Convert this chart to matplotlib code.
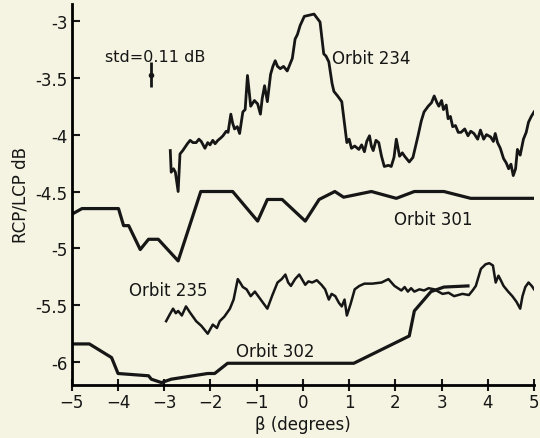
import numpy as np
import matplotlib
matplotlib.use("Agg")
import matplotlib.pyplot as plt

# values
o234_x = [-2.87, -2.85, -2.80, -2.76, -2.70, -2.66, -2.60, -2.55, -2.50, -2.44, -2.38, -2.31,
          -2.25, -2.20, -2.12, -2.06, -2.01, -1.95, -1.90, -1.84, -1.78, -1.73, -1.66, -1.62,
          -1.56, -1.52, -1.48, -1.42, -1.37, -1.30, -1.25, -1.20, -1.13, -1.05, -0.98, -0.92,
          -0.88, -0.83, -0.77, -0.70, -0.65, -0.60, -0.55, -0.49, -0.42, -0.34, -0.28, -0.23,
          -0.17, -0.12, -0.06, 0.03, 0.14, 0.24, 0.37, 0.45, 0.50, 0.56, 0.63, 0.67, 0.75,
          0.84, 0.95, 1.00, 1.05, 1.12, 1.21, 1.27, 1.33, 1.38, 1.44, 1.48, 1.52, 1.58, 1.64,
          1.70, 1.76, 1.85, 1.91, 1.97, 2.02, 2.09, 2.15, 2.20, 2.30, 2.38, 2.49, 2.56, 2.62,
          2.71, 2.78, 2.84, 2.90, 2.94, 3.00, 3.04, 3.10, 3.14, 3.19, 3.24, 3.30, 3.36, 3.42,
          3.50, 3.57, 3.63, 3.70, 3.78, 3.84, 3.91, 3.97, 4.06, 4.12, 4.16, 4.21, 4.27, 4.34,
          4.40, 4.45, 4.50, 4.55, 4.60, 4.64, 4.70, 4.77, 4.83, 4.88, 4.94, 5.0]
o234_y = [-4.14, -4.33, -4.30, -4.33, -4.50, -4.17, -4.14, -4.11, -4.08, -4.05, -4.07, -4.07,
          -4.04, -4.06, -4.12, -4.07, -4.09, -4.05, -4.08, -4.05, -4.03, -4.01, -3.97, -3.98,
          -3.82, -3.90, -3.95, -3.93, -3.99, -3.80, -3.78, -3.48, -3.75, -3.70, -3.73, -3.82,
          -3.68, -3.57, -3.71, -3.47, -3.40, -3.35, -3.40, -3.42, -3.40, -3.44, -3.38, -3.33,
          -3.16, -3.12, -3.04, -2.96, -2.95, -2.94, -3.01, -3.29, -3.31, -3.36, -3.55, -3.62,
          -3.66, -3.71, -4.07, -4.04, -4.12, -4.10, -4.13, -4.09, -4.15, -4.06, -4.01, -4.10,
          -4.14, -4.05, -4.07, -4.19, -4.28, -4.27, -4.28, -4.20, -4.04, -4.19, -4.16, -4.19,
          -4.24, -4.20, -4.01, -3.88, -3.80, -3.75, -3.72, -3.66, -3.72, -3.75, -3.70, -3.78,
          -3.74, -3.86, -3.84, -3.93, -3.92, -3.98, -3.98, -3.95, -4.01, -3.97, -3.99, -4.04,
          -3.96, -4.04, -4.00, -4.02, -4.06, -3.99, -4.07, -4.12, -4.21, -4.25, -4.30, -4.26,
          -4.36, -4.30, -4.13, -4.18, -4.04, -3.98, -3.89, -3.84, -3.80]

o301_x = [-5.0, -4.78, -3.99, -3.88, -3.77, -3.52, -3.34, -3.13, -2.70, -2.21, -1.52,
          -0.98, -0.77, -0.45, 0.05, 0.35, 0.69, 0.88, 1.48, 2.02, 2.41, 3.05, 3.63, 5.0]
o301_y = [-4.70, -4.65, -4.65, -4.80, -4.80, -5.01, -4.92, -4.92, -5.11, -4.50, -4.50,
          -4.76, -4.57, -4.57, -4.76, -4.57, -4.50, -4.55, -4.50, -4.56, -4.50, -4.50, -4.56, -4.56]

o235_x = [-2.96, -2.88, -2.81, -2.75, -2.70, -2.62, -2.53, -2.45, -2.38, -2.31, -2.20, -2.12,
          -2.06, -1.95, -1.86, -1.80, -1.70, -1.58, -1.50, -1.41, -1.36, -1.30, -1.22, -1.13,
          -1.04, -0.95, -0.86, -0.77, -0.66, -0.55, -0.46, -0.38, -0.32, -0.26, -0.17, -0.08,
          0.05, 0.12, 0.20, 0.30, 0.40, 0.48, 0.56, 0.62, 0.70, 0.78, 0.84, 0.90, 0.95,
          1.03, 1.12, 1.22, 1.33, 1.50, 1.70, 1.85, 1.98, 2.13, 2.20, 2.27, 2.34, 2.41,
          2.52, 2.62, 2.72, 2.84, 2.93, 3.02, 3.15, 3.27, 3.45, 3.59, 3.67, 3.74, 3.85,
          3.95, 4.03, 4.11, 4.17, 4.23, 4.28, 4.34, 4.44, 4.53, 4.62, 4.70, 4.75, 4.81,
          4.88, 4.95, 5.0]
o235_y = [-5.64, -5.58, -5.53, -5.57, -5.55, -5.59, -5.51, -5.56, -5.60, -5.64, -5.68, -5.72,
          -5.75, -5.67, -5.70, -5.64, -5.60, -5.53, -5.45, -5.27, -5.30, -5.34, -5.36, -5.42,
          -5.38, -5.43, -5.48, -5.53, -5.41, -5.30, -5.27, -5.23, -5.30, -5.33, -5.27, -5.23,
          -5.32, -5.29, -5.30, -5.28, -5.32, -5.36, -5.45, -5.40, -5.42, -5.48, -5.51, -5.45,
          -5.59, -5.49, -5.36, -5.33, -5.31, -5.31, -5.30, -5.27, -5.33, -5.37, -5.34, -5.38,
          -5.35, -5.38, -5.36, -5.37, -5.35, -5.36, -5.38, -5.40, -5.39, -5.42, -5.40, -5.41,
          -5.37, -5.33, -5.18, -5.14, -5.13, -5.15, -5.30, -5.24, -5.28, -5.33, -5.38, -5.42,
          -5.47, -5.53, -5.42, -5.34, -5.30, -5.33, -5.36]

o302_x = [-5.0, -4.62, -4.14, -4.0, -3.34, -3.28, -3.06, -2.85, -2.06, -1.91, -1.63,
          1.10, 2.30, 2.41, 2.77, 3.05, 3.57]
o302_y = [-5.84, -5.84, -5.96, -6.10, -6.12, -6.15, -6.18, -6.15, -6.10, -6.10, -6.01,
          -6.01, -5.77, -5.55, -5.38, -5.34, -5.33]

xticks = [-5, -4, -3, -2, -1, 0, 1, 2, 3, 4, 5]
yticks = [-6, -5.5, -5, -4.5, -4, -3.5, -3]
ytick_labels = ['-6', '-5.5', '-5', '-4.5', '-4', '-3.5', '-3']

bg = '#f5f3e1'
ink = '#161616'

fig = plt.figure(figsize=(5.4, 4.39), dpi=100, facecolor=bg)
ax = fig.add_axes([0.133, 0.121, 0.856, 0.868], facecolor=bg)

ax.plot(o234_x, o234_y, color=ink, lw=2.0)
ax.plot(o301_x, o301_y, color=ink, lw=2.3)
ax.plot(o235_x, o235_y, color=ink, lw=1.8)
ax.plot(o302_x, o302_y, color=ink, lw=2.3)

# std error bar
ax.errorbar([-3.28], [-3.48], yerr=[[0.10], [0.12]], color=ink, lw=2, fmt='o', ms=3, capsize=0)
ax.text(-3.2, -3.31, 'std=0.11 dB', ha='center', va='center', fontsize=11.5, color=ink)

ax.text(0.62, -3.33, 'Orbit 234', ha='left', va='center', fontsize=12, color=ink)
ax.text(1.98, -4.74, 'Orbit 301', ha='left', va='center', fontsize=12, color=ink)
ax.text(-3.77, -5.37, 'Orbit 235', ha='left', va='center', fontsize=12, color=ink)
ax.text(-1.45, -5.90, 'Orbit 302', ha='left', va='center', fontsize=12, color=ink)

ax.set_xlim(-5, 5)
ax.set_ylim(-6.2, -2.85)
ax.set_xticks(xticks)
ax.set_yticks(yticks)
ax.set_yticklabels(ytick_labels)
ax.spines['top'].set_visible(False)
ax.spines['right'].set_visible(False)
ax.spines['left'].set_linewidth(2)
ax.spines['bottom'].set_linewidth(2)
ax.tick_params(axis='x', direction='inout', length=8, width=1.5, labelsize=12, pad=2, colors=ink)
ax.tick_params(axis='y', direction='in', length=6, width=1.5, labelsize=12, pad=3, colors=ink)
ax.set_xlabel('β (degrees)', fontsize=12, labelpad=3, color=ink)
ax.set_ylabel('RCP/LCP dB', fontsize=12, labelpad=4, color=ink)

fig.savefig('out.png', dpi=100, facecolor=bg)
